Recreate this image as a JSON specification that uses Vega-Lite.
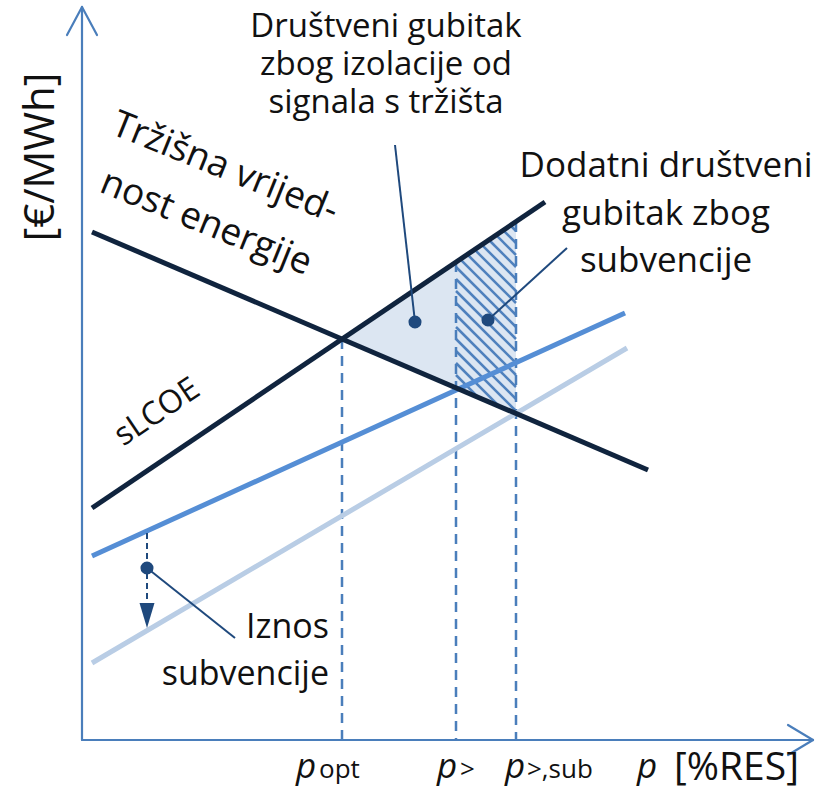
{
  "$schema": "https://vega.github.io/schema/vega-lite/v6.json",
  "width": 827,
  "height": 801,
  "autosize": {"type": "fit", "contains": "padding"},
  "padding": 0,
  "background": "white",
  "config": {"view": {"stroke": null}, "text": {"font": "Open Sans"}},
  "encoding": {
    "x": {"field": "x", "type": "quantitative", "scale": {"domain": [0, 827], "nice": false, "zero": false}, "axis": null},
    "y": {"field": "y", "type": "quantitative", "scale": {"domain": [0, 801], "nice": false, "zero": false, "reverse": true}, "axis": null}
  },
  "layer": [
    {
      "data": {"values": [{"x": 342, "y": 339, "y2": 339}, {"x": 456, "y": 262.3, "y2": 387.8}]},
      "mark": {"type": "area", "color": "#dce6f2", "opacity": 1},
      "encoding": {"y2": {"field": "y2"}}
    },
    {
      "data": {"values": [{"x": 456, "y": 262.3, "y2": 387.8}, {"x": 516, "y": 221.8, "y2": 413.5}]},
      "mark": {"type": "area", "color": "#dce6f2", "opacity": 1},
      "encoding": {"y2": {"field": "y2"}}
    },
    {
      "data": {"values": [
        {"x": 510.5, "y": 225.5, "x2": 516, "y2": 231},
        {"x": 503.3, "y": 230.3, "x2": 516, "y2": 243},
        {"x": 496.2, "y": 235.2, "x2": 516, "y2": 255},
        {"x": 489.0, "y": 240.0, "x2": 516, "y2": 267},
        {"x": 481.9, "y": 244.9, "x2": 516, "y2": 279},
        {"x": 474.7, "y": 249.7, "x2": 516, "y2": 291},
        {"x": 467.5, "y": 254.5, "x2": 516, "y2": 303},
        {"x": 460.4, "y": 259.4, "x2": 516, "y2": 315},
        {"x": 456, "y": 267, "x2": 516, "y2": 327},
        {"x": 456, "y": 279, "x2": 516, "y2": 339},
        {"x": 456, "y": 291, "x2": 516, "y2": 351},
        {"x": 456, "y": 303, "x2": 516, "y2": 363},
        {"x": 456, "y": 315, "x2": 516, "y2": 375},
        {"x": 456, "y": 327, "x2": 516, "y2": 387},
        {"x": 456, "y": 339, "x2": 516, "y2": 399},
        {"x": 456, "y": 351, "x2": 516, "y2": 411},
        {"x": 456, "y": 363, "x2": 499.3, "y2": 406.3},
        {"x": 456, "y": 375, "x2": 478.3, "y2": 397.3}
      ]},
      "mark": {"type": "rule", "color": "#4f81bd", "strokeWidth": 2.5},
      "encoding": {"x2": {"field": "x2"}, "y2": {"field": "y2"}}
    },
    {
      "data": {"values": [
        {"x": 342, "y": 339, "y2": 740},
        {"x": 456, "y": 262, "y2": 740},
        {"x": 516, "y": 222, "y2": 740}
      ]},
      "mark": {"type": "rule", "color": "#4a7ebb", "strokeWidth": 2.5, "strokeDash": [10, 7]},
      "encoding": {"y2": {"field": "y2"}}
    },
    {
      "data": {"values": [
        {"s": "light", "x": 92, "y": 663, "x2": 627, "y2": 348},
        {"s": "medium", "x": 92, "y": 556, "x2": 625, "y2": 313},
        {"s": "market", "x": 92, "y": 232, "x2": 648, "y2": 470},
        {"s": "sLCOE", "x": 92, "y": 508, "x2": 545, "y2": 202}
      ]},
      "mark": {"type": "rule", "strokeWidth": 5, "strokeCap": "butt"},
      "encoding": {
        "x2": {"field": "x2"},
        "y2": {"field": "y2"},
        "color": {"field": "s", "type": "nominal", "legend": null,
          "scale": {"domain": ["light", "medium", "market", "sLCOE"], "range": ["#b9cde5", "#558ed5", "#10243e", "#10243e"]}}
      }
    },
    {
      "data": {"values": [
        {"x": 82, "y": 740, "x2": 82, "y2": 7},
        {"x": 82, "y": 7, "x2": 67, "y2": 35},
        {"x": 82, "y": 7, "x2": 97, "y2": 35},
        {"x": 82, "y": 740, "x2": 813, "y2": 740},
        {"x": 813, "y": 740, "x2": 788, "y2": 725},
        {"x": 813, "y": 740, "x2": 788, "y2": 755}
      ]},
      "mark": {"type": "rule", "color": "#4a7ebb", "strokeWidth": 2.2, "strokeCap": "round"},
      "encoding": {"x2": {"field": "x2"}, "y2": {"field": "y2"}}
    },
    {
      "data": {"values": [
        {"x": 395, "y": 145, "x2": 415, "y2": 322},
        {"x": 488, "y": 320, "x2": 567, "y2": 248},
        {"x": 147, "y": 568, "x2": 235, "y2": 638}
      ]},
      "mark": {"type": "rule", "color": "#1f497d", "strokeWidth": 2},
      "encoding": {"x2": {"field": "x2"}, "y2": {"field": "y2"}}
    },
    {
      "data": {"values": [{"x": 147, "y": 533, "y2": 606}]},
      "mark": {"type": "rule", "color": "#1f497d", "strokeWidth": 2, "strokeDash": [6, 4]},
      "encoding": {"y2": {"field": "y2"}}
    },
    {
      "data": {"values": [{"x": 147, "y": 615.5}]},
      "mark": {"type": "point", "filled": true, "color": "#1f497d", "opacity": 1, "size": 625, "shape": "M -0.6 -1 L 0.6 -1 L 0 1 Z"}
    },
    {
      "data": {"values": [{"x": 415, "y": 322}, {"x": 488, "y": 320}, {"x": 147, "y": 568}]},
      "mark": {"type": "point", "filled": true, "shape": "circle", "color": "#1f497d", "opacity": 1, "size": 170}
    },
    {
      "data": {"values": [
        {"x": 386, "y": 37, "t": "Društveni gubitak\nzbog izolacije od\nsignala s tržišta"}
      ]},
      "mark": {"type": "text", "fontSize": 33, "lineHeight": 38, "lineBreak": "\n", "color": "#111111", "align": "center", "baseline": "alphabetic"},
      "encoding": {"text": {"field": "t"}}
    },
    {
      "data": {"values": [
        {"x": 666, "y": 177, "t": "Dodatni društveni\ngubitak zbog\nsubvencije"}
      ]},
      "mark": {"type": "text", "fontSize": 35, "lineHeight": 47.5, "lineBreak": "\n", "color": "#111111", "align": "center", "baseline": "alphabetic"},
      "encoding": {"text": {"field": "t"}}
    },
    {
      "data": {"values": [
        {"x": 329, "y": 638, "t": "Iznos\nsubvencije"}
      ]},
      "mark": {"type": "text", "fontSize": 34, "lineHeight": 47, "lineBreak": "\n", "color": "#111111", "align": "right", "baseline": "alphabetic"},
      "encoding": {"text": {"field": "t"}}
    },
    {
      "data": {"values": [
        {"x": 225, "y": 168, "t": "Tržišna vrijed-"},
        {"x": 206, "y": 223, "t": "nost energije"}
      ]},
      "mark": {"type": "text", "fontSize": 37, "color": "#111111", "align": "center", "baseline": "middle", "angle": 22},
      "encoding": {"text": {"field": "t"}}
    },
    {
      "data": {"values": [{"x": 157, "y": 412, "t": "sLCOE"}]},
      "mark": {"type": "text", "fontSize": 32, "color": "#111111", "align": "center", "baseline": "middle", "angle": -34},
      "encoding": {"text": {"field": "t"}}
    },
    {
      "data": {"values": [{"x": 41, "y": 157, "t": "[€/MWh]"}]},
      "mark": {"type": "text", "fontSize": 42, "color": "#111111", "align": "center", "baseline": "middle", "angle": -90},
      "encoding": {"text": {"field": "t"}}
    },
    {
      "data": {"values": [
        {"x": 296, "y": 778, "t": "p"},
        {"x": 437, "y": 778, "t": "p"},
        {"x": 505, "y": 778, "t": "p"},
        {"x": 637, "y": 778, "t": "p"}
      ]},
      "mark": {"type": "text", "fontSize": 35, "fontStyle": "italic", "color": "#111111", "align": "left", "baseline": "alphabetic"},
      "encoding": {"text": {"field": "t"}}
    },
    {
      "data": {"values": [
        {"x": 319, "y": 778, "t": "opt"},
        {"x": 460, "y": 778, "t": ">"},
        {"x": 527, "y": 778, "t": ">,sub"}
      ]},
      "mark": {"type": "text", "fontSize": 26, "color": "#111111", "align": "left", "baseline": "alphabetic"},
      "encoding": {"text": {"field": "t"}}
    },
    {
      "data": {"values": [{"x": 674, "y": 780, "t": "[%RES]"}]},
      "mark": {"type": "text", "fontSize": 39, "color": "#111111", "align": "left", "baseline": "alphabetic"},
      "encoding": {"text": {"field": "t"}}
    }
  ]
}
